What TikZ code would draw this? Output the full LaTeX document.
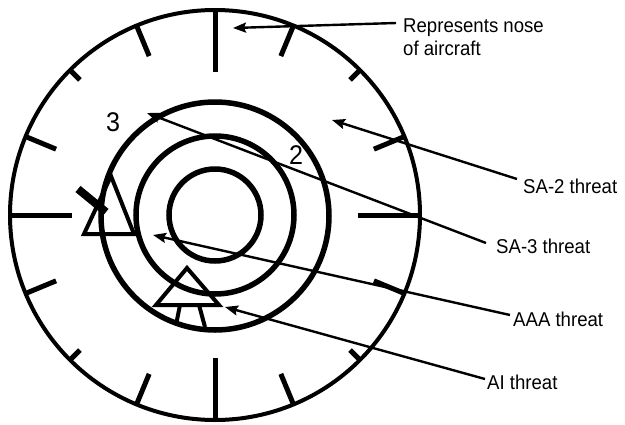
\documentclass[tikz,border=0pt]{standalone}
\usepackage{fontspec}
\setmainfont[FakeStretch=0.93]{Liberation Sans}
\usetikzlibrary{arrows.meta,calc}
\begin{document}
\begin{tikzpicture}[x=1pt,y=-1pt,
  rim/.style={line width=4pt},
  ring/.style={line width=5.5pt},
  tickmark/.style={line width=5pt},
  leader/.style={line width=2.4pt,-{Stealth[length=13pt,width=10pt,inset=2pt]}},
  lbl/.style={font=\fontsize{20}{23}\selectfont, inner sep=0pt, anchor=base west},
  num/.style={font=\fontsize{27}{27}\selectfont, inner sep=0pt},
  threatmark/.style={line width=4pt, line join=miter}]
\useasboundingbox (0,0) rectangle (625,424);
\fill[white] (0,0) rectangle (625,424);

% scope rings
\coordinate (c) at (215,215);
\coordinate (cm) at (215,216);
\draw[rim] (c) circle (205);
\draw[ring] (cm) circle (114);
\draw[ring] (c) circle (79);
\draw[ring] (c) circle (46);

% clock ticks
\foreach \a/\l in {0/62,22.5/33,45/14,67.5/33,90/62,112.5/33,135/14,157.5/33,
                   180/62,202.5/33,225/14,247.5/33,270/62,292.5/33,315/14,337.5/33}
  \draw[tickmark] ($(c)+(\a:205)$) -- ($(c)+(\a:205-\l)$);

% ring numbers
\node[num] (n3) at (113,122) {3};
\node[num] (n2) at (296,155) {2};

% AAA threat symbol (left)
\draw[threatmark] (139,234) -- (84,234) -- (111,176) -- (134,234);
\draw[line width=8pt] (78,189) -- (106,212);

% AI threat symbol (bottom)
\draw[threatmark] (187,268) -- (156,305) -- (219,305) -- cycle;
\draw[threatmark] (180,305) -- (176,325);
\draw[threatmark] (199,305) -- (205,327);

% labels
\node[lbl] (nose1) at (403,32) {Represents nose};
\node[lbl] (nose2) at (403,55) {of aircraft};
\node[lbl] (sa2) at (523,193) {SA-2 threat};
\node[lbl] (sa3) at (496,253) {SA-3 threat};
\node[lbl] (aaa) at (513,326) {AAA threat};
\node[lbl] (ai) at (487,389) {AI threat};

% leader coordinates
\coordinate (noseS) at (396,23);  \coordinate (noseT) at (233,28);
\coordinate (sa2S) at (517,179);  \coordinate (sa2T) at (332,120);
\coordinate (sa3S) at (486,243);  \coordinate (sa3T) at (147,113);
\coordinate (aaaS) at (510,315);  \coordinate (aaaT) at (153,235);
\coordinate (aiS) at (485,379);   \coordinate (aiT) at (225,307);

\draw[leader] (noseS) -- (noseT);
\draw[leader] (sa2S) -- (sa2T);
\draw[leader] (sa3S) -- (sa3T);
\draw[leader] (aaaS) -- (aaaT);
\draw[leader] (aiS) -- (aiT);
\end{tikzpicture}
\end{document}
